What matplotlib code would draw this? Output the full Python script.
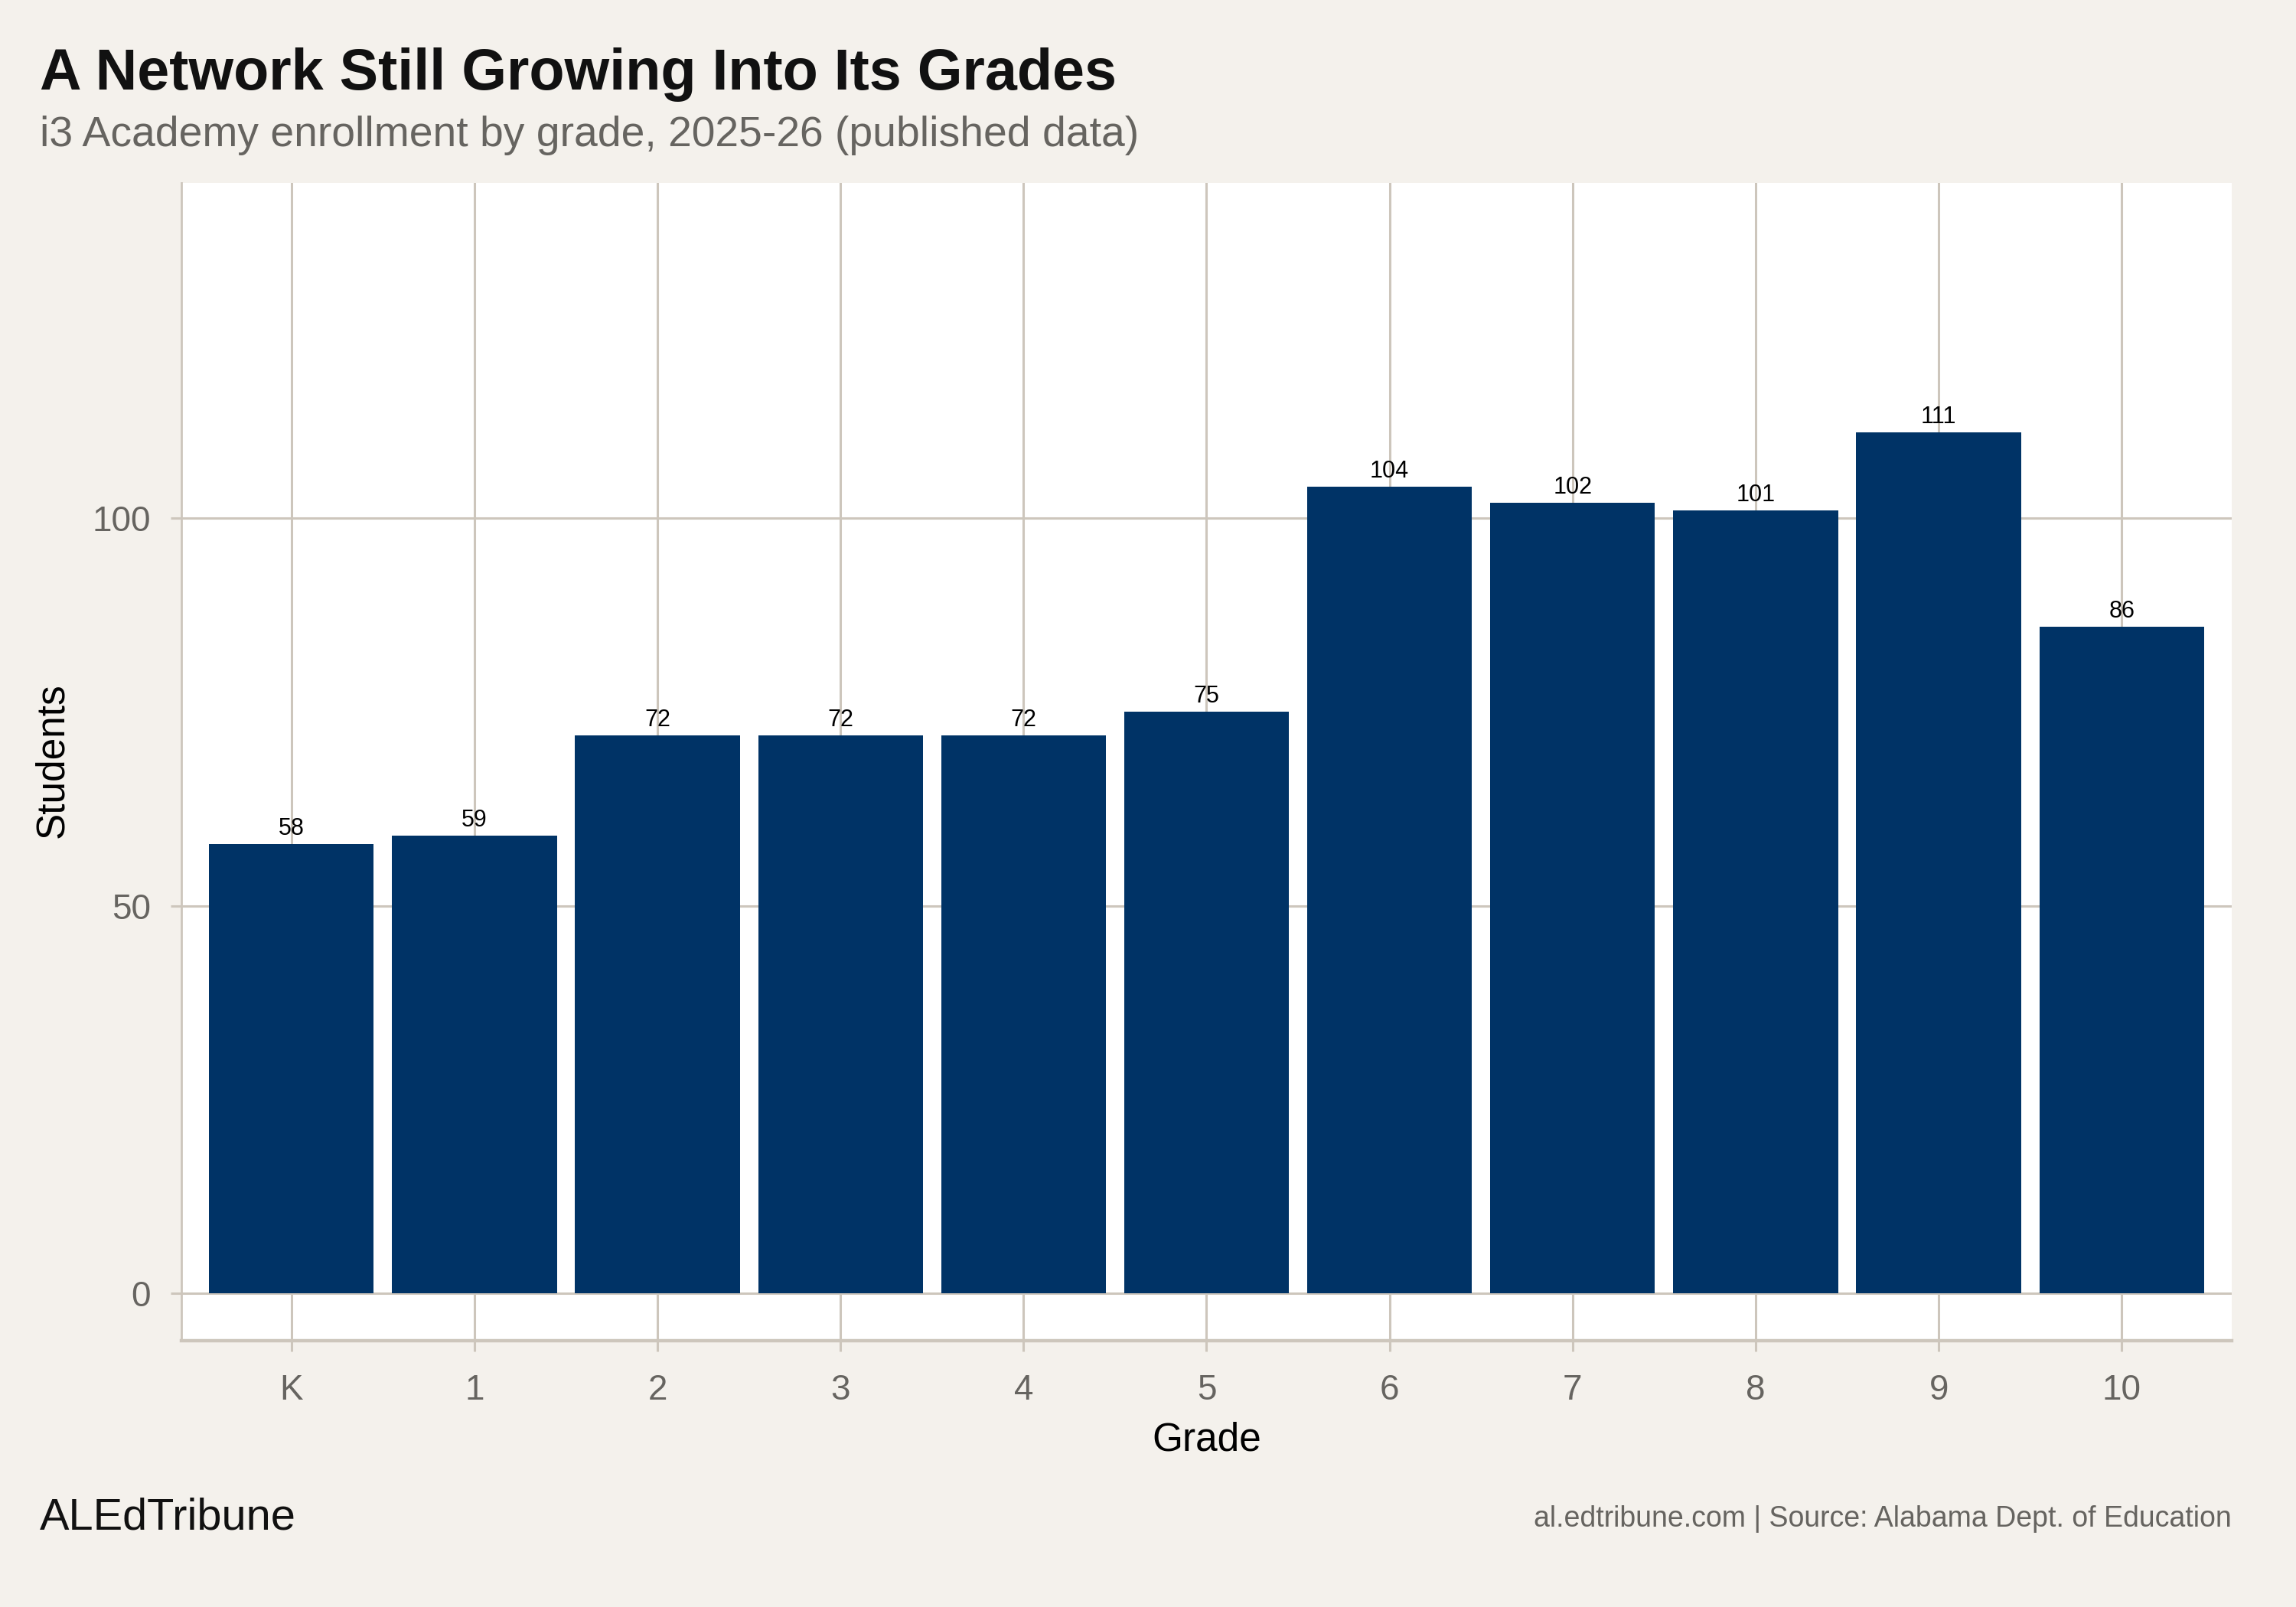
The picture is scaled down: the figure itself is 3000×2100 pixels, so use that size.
import numpy as np
import matplotlib
matplotlib.use("Agg")
import matplotlib.pyplot as plt

plt.rcParams['font.family'] = ['Liberation Sans', 'DejaVu Sans']

# enrollment by grade, 2025-26
grades = ['K', '1', '2', '3', '4', '5', '6', '7', '8', '9', '10']
students = [58, 59, 72, 72, 72, 75, 104, 102, 101, 111, 86]

bg = '#f4f1ec'
grid_col = '#cdc6bc'
bar_col = '#003366'
grey = '#666460'

fig = plt.figure(figsize=(15, 10.5), dpi=200, facecolor=bg)
ax = fig.add_axes([0.0791, 0.1658, 0.8928, 0.7204])
ax.set_facecolor('white')

x = np.arange(len(grades))
ax.bar(x, students, width=0.9, color=bar_col, zorder=2)
for xi, v in zip(x, students):
    ax.text(xi, v + 0.5, str(v), ha='center', va='bottom', fontsize=11,
            color='black', zorder=3)

ax.set_xlim(-0.6, 10.6)
ax.set_ylim(-6.05, 143.2)
ax.set_xticks(x)
ax.set_xticklabels(grades)
ax.set_yticks([0, 50, 100])

ax.grid(True, color=grid_col, linewidth=1.1, zorder=0)
ax.set_axisbelow(True)
for s in ['top', 'right']:
    ax.spines[s].set_visible(False)
ax.spines['left'].set_color(grid_col)
ax.spines['left'].set_linewidth(1.0)
ax.spines['bottom'].set_color(grid_col)
ax.spines['bottom'].set_linewidth(1.6)
ax.tick_params(axis='both', colors=grid_col, labelcolor=grey, labelsize=16.5,
               length=5.2, width=1.1)
ax.tick_params(axis='x', pad=10.5)
ax.tick_params(axis='y', pad=9.3)

fig.text(0.0791 + 0.8928 / 2, 0.104, 'Grade', ha='center', va='center',
         fontsize=18.5, color='black')
fig.text(0.023, 0.1658 + 0.7204 / 2 + 0.001, 'Students', ha='center', va='center',
         rotation=90, fontsize=18.5, color='black')

fig.text(0.0172, 0.9444, 'A Network Still Growing Into Its Grades',
         ha='left', va='baseline', fontsize=27.2, fontweight='bold', color='#111111')
fig.text(0.0172, 0.9089, 'i3 Academy enrollment by grade, 2025-26 (published data)',
         ha='left', va='baseline', fontsize=19.9, color=grey)

fig.text(0.0172, 0.0483, 'ALEdTribune', ha='left', va='baseline',
         fontsize=20.8, color='#111111')
fig.text(0.9719, 0.0500, 'al.edtribune.com | Source: Alabama Dept. of Education',
         ha='right', va='baseline', fontsize=13.5, color=grey)

fig.savefig('out.png', dpi=200, facecolor=bg)
